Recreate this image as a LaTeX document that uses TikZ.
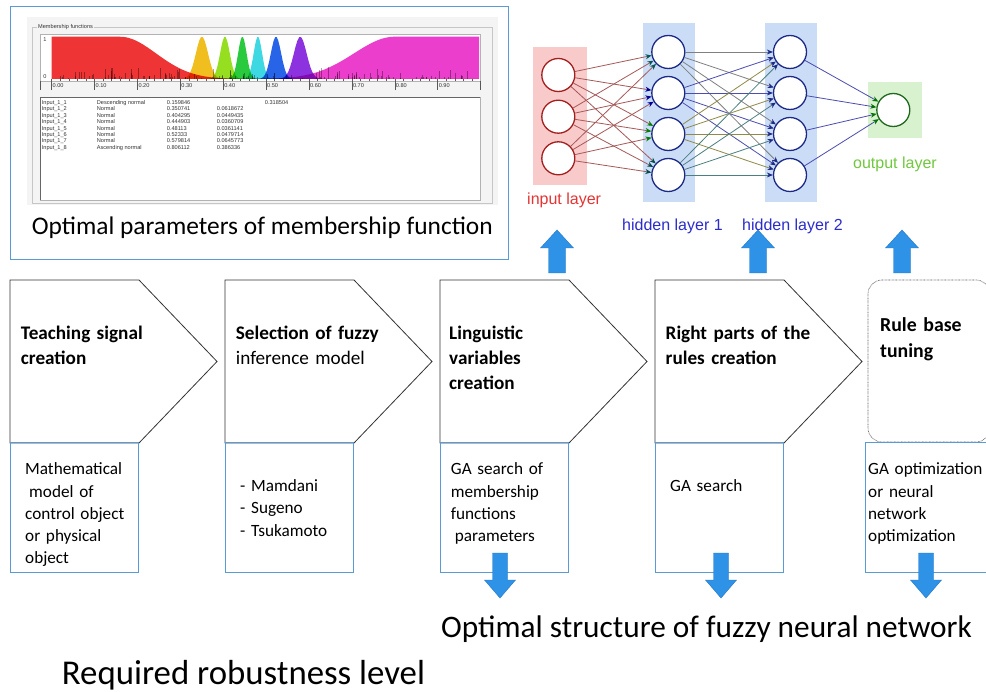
\documentclass[tikz,border=0pt]{standalone}
\usepackage{fontspec}
\setmainfont{Carlito}
\newfontfamily\guifont{Liberation Sans}
\usetikzlibrary{arrows.meta}

\definecolor{panelblue}{RGB}{91,155,213}
\definecolor{arrowblue}{RGB}{46,146,230}
\definecolor{arrowedge}{RGB}{36,118,200}
\definecolor{winbg}{RGB}{244,244,244}
\definecolor{inpink}{RGB}{248,202,202}
\definecolor{hidblue}{RGB}{202,220,246}
\definecolor{outgreen}{RGB}{216,241,206}
\definecolor{inred}{RGB}{165,30,30}
\definecolor{hidnavy}{RGB}{28,42,135}
\definecolor{outdark}{RGB}{30,105,30}
\definecolor{inlabel}{RGB}{228,52,52}
\definecolor{hidlabel}{RGB}{44,44,205}
\definecolor{outlabel}{RGB}{112,200,62}
\definecolor{mfred}{RGB}{238,52,52}
\definecolor{mfmag}{RGB}{236,62,204}
\definecolor{mfyellow}{RGB}{240,190,30}
\definecolor{mflime}{RGB}{150,222,32}
\definecolor{mfgreen}{RGB}{42,202,62}
\definecolor{mfcyan}{RGB}{62,216,226}
\definecolor{mfblue}{RGB}{40,100,232}
\definecolor{mfviolet}{RGB}{140,50,222}

\tikzset{
  chevron/.style={draw=black!80, line width=0.8pt, fill=white, line join=miter},
  notebox/.style={draw=panelblue, line width=1pt},
  steptitle/.style={anchor=base west, inner sep=0pt, text width=210pt, align=left,
    font=\fontsize{19.2}{25}\selectfont\bfseries},
  stepnote/.style={anchor=base west, inner sep=0pt, text width=140pt, align=left,
    font=\fontsize{17.2}{22.2}\selectfont},
  caption/.style={anchor=base west, inner sep=0pt},
  guitext/.style={inner sep=0pt, font=\guifont\fontsize{5.6}{6.45}\selectfont, text=black!80},
  neuron/.style={circle, line width=1.3pt, fill=white, minimum size=33pt, inner sep=0pt},
  layerlabel/.style={anchor=base west, inner sep=0pt, font=\guifont\fontsize{16}{18}\selectfont},
  synapse/.style={line width=0.8pt},
  blockup/.pic={\fill[arrowblue, draw=arrowedge, line width=0.4pt]
    (-8.5,0) -- (-8.5,-25) -- (-16.5,-25) -- (0,-43) -- (16.5,-25) -- (8.5,-25) -- (8.5,0) -- cycle;},
  blockdown/.pic={\fill[arrowblue, draw=arrowedge, line width=0.4pt]
    (-7.5,0) -- (-7.5,27) -- (-15.5,27) -- (0,45) -- (15.5,27) -- (7.5,27) -- (7.5,0) -- cycle;}
}

\begin{document}
\begin{tikzpicture}[x=1pt, y=-1pt,
  declare function={mfg(\u,\c,\w)=exp(max(-9,0-((\u-\c)/\w)^2));}]
\fill[white] (0,0) rectangle (986,692);
\useasboundingbox (0,0) rectangle (986,692);

% membership function screenshot
\draw[panelblue, line width=1pt] (10,7) rectangle (508,260);
\fill[winbg] (27,17) rectangle (498,205);
\draw[gray!45] (32,27) rectangle (492,203);
\node[guitext, fill=winbg, anchor=west, inner sep=1pt] (mftitle) at (37,27) {Membership functions};
\draw[gray!60, fill=white] (40.5,34.5) rectangle (480,81);
\begin{scope}[shift={(51.5,79)}, x=429pt, y=42.3pt]
  \fill[mfred] (0,0) -- plot[domain=0:0.997, samples=90] (\x,{(\x<0.16) ? 1 : mfg(\x,0.16,0.118)}) -- (0.997,0) -- cycle;
  \fill[mfmag, blend mode=multiply] (0.4,0) -- plot[domain=0.4:0.997, samples=70] (\x,{(\x>0.8) ? 1 : mfg(\x,0.8,0.134)}) -- (0.997,0) -- cycle;
  \foreach \c/\w/\col in {0.3507/0.020/mfyellow, 0.4043/0.016/mflime, 0.4449/0.014/mfgreen,
      0.4811/0.014/mfcyan, 0.5233/0.017/mfblue, 0.5798/0.021/mfviolet} {
    \pgfmathsetmacro\lo{\c-4*\w}
    \pgfmathsetmacro\hi{\c+4*\w}
    \fill[\col, blend mode=multiply] plot[domain=\lo:\hi, samples=40] (\x,{mfg(\x,\c,\w)}) -- cycle;
  }
  % noise of the data points
  \pgfmathsetseed{7}
  \foreach \k in {1,...,130} {
    \pgfmathsetmacro\sx{0.02+0.95*rnd}
    \pgfmathsetmacro\sh{0.03+0.3*rnd*rnd}
    \draw[black, opacity=0.35, line width=0.4pt] (\sx,0) -- (\sx,\sh);
  }
\end{scope}
\foreach \k in {0,...,49} \draw[gray!70!black, line width=0.3pt] ({51.5+8.58*\k},79) -- ++(0,2);
\foreach \k in {0,...,9} {
  \draw[gray!70!black, line width=0.4pt] ({51.5+42.9*\k},81) -- ++(0,9);
  \node[guitext, anchor=west] (tick\k) at ({52.5+42.9*\k},86) {0.\k0};
}
\draw[gray!70!black, line width=0.4pt] (480,81) -- ++(0,9) (40.5,81) -- ++(0,9);
\node[guitext] (yone) at (45,40) {1};
\node[guitext] (yzero) at (45,77) {0};
\draw[gray!60, fill=white] (40,97) rectangle (480,200);
\draw[gray!80!black, line width=0.5pt] (40.5,200) -- (40.5,97.5) -- (480,97.5);
\node[guitext, anchor=north west] (mftable) at (41.7,99.5) {%
  \begin{tabular}{@{}p{55pt}@{}p{70pt}@{}p{50pt}@{}p{48pt}@{}l@{}}
  Input\_1\_1 & Descending normal & 0.159846 & & 0.318504\\
  Input\_1\_2 & Normal & 0.350741 & 0.0618672 & \\
  Input\_1\_3 & Normal & 0.404295 & 0.0449435 & \\
  Input\_1\_4 & Normal & 0.444903 & 0.0360709 & \\
  Input\_1\_5 & Normal & 0.48113 & 0.0361141 & \\
  Input\_1\_6 & Normal & 0.52333 & 0.0479714 & \\
  Input\_1\_7 & Normal & 0.579814 & 0.0645773 & \\
  Input\_1\_8 & Ascending normal & 0.806112 & 0.386336 &
  \end{tabular}};
\node[caption, font=\fontsize{25.4}{30}\selectfont] (mfcap) at (31.7,235) {Optimal parameters of membership function};

% neural network
\fill[inpink] (533.3,46.7) rectangle (586.7,185);
\fill[hidblue] (643.3,23.3) rectangle (695,201.7);
\fill[hidblue] (765,23.3) rectangle (816.7,201.7);
\fill[outgreen] (868.3,81.7) rectangle (921.7,138.3);
\foreach \n/\y in {1/75,2/116.7,3/158.3}
  \node[neuron, draw=inred] (in\n) at (558.3,\y) {};
\foreach \n/\y in {1/52,2/93,3/134,4/175} {
  \node[neuron, draw=hidnavy] (ha\n) at (668.3,\y) {};
  \node[neuron, draw=hidnavy] (hb\n) at (790,\y) {};
}
\node[neuron, draw=outdark] (out) at (893.3,110) {};
\foreach \i in {1,2,3}
  \foreach \j/\tip in {1/teal!70!black, 2/blue!60!black, 3/green!50!black, 4/teal!60!black}
    \draw[synapse, red!30!gray, -{Stealth[length=6pt, width=5pt, color=\tip]}] (in\i) -- (ha\j);
\foreach \i/\ec in {1/gray, 2/blue!40!gray, 3/olive!50!gray, 4/teal!40!gray}
  \foreach \j in {1,...,4}
    \draw[synapse, \ec, -{Stealth[length=6pt, width=5pt, color=hidnavy]}] (ha\i) -- (hb\j);
\foreach \i in {1,...,4}
  \draw[synapse, blue!40!gray, -{Stealth[length=6pt, width=5pt, color=green!45!black]}] (hb\i) -- (out);
\node[layerlabel, text=inlabel] (inlab) at (527,205) {input layer};
\node[layerlabel, text=hidlabel] (halab) at (622,231) {hidden layer 1};
\node[layerlabel, text=hidlabel] (hblab) at (742,231) {hidden layer 2};
\node[layerlabel, text=outlabel] (outlab) at (853,169) {output layer};

% up arrows
\pic at (557,273) {blockup};
\pic at (758,273) {blockup};
\pic at (902,273) {blockup};

% process chevrons
\foreach \L in {10,225,440,655} {
  \draw[chevron] (\L,280) -- (\L+129,280) -- (\L+207,361.5) -- (\L+129,443) -- (\L,443) -- cycle;
  \draw[notebox] (\L,443) rectangle (\L+128,572);
}
\draw[gray!70!black, line width=0.6pt, dash pattern=on 0.7pt off 0.7pt, rounded corners=14pt] (868,280) rectangle (990,442);
\draw[notebox] (865,443) rectangle (995,572);

\node[steptitle] (st1) at (20.7,340) {Teaching signal\\creation};
\node[steptitle] (st2) at (235.7,340) {Selection of fuzzy\\\mdseries inference model};
\node[steptitle] (st3) at (449,340) {Linguistic\\variables\\creation};
\node[steptitle] (st4) at (665.5,340) {Right parts of the\\rules creation};
\node[steptitle, font=\fontsize{19.8}{26}\selectfont\bfseries] (st5) at (880,332) {Rule base\\tuning};

\node[stepnote] (sn1) at (25,475) {Mathematical\\\hspace{4pt}model of\\control object\\or physical\\object};
\node[stepnote] (sn2) at (240,491.7) {- Mamdani\\- Sugeno\\- Tsukamoto};
\node[stepnote] (sn3) at (450.7,475) {GA search of\\membership\\functions\\\hspace{4pt}parameters};
\node[stepnote] (sn4) at (670,492) {GA search};
\node[stepnote] (sn5) at (868,475) {GA optimization\\or neural\\network\\optimization};

% down arrows
\pic at (500,553) {blockdown};
\pic at (721,553) {blockdown};
\pic at (926,553) {blockdown};

\node[caption, font=\fontsize{31.3}{36}\selectfont] (fnncap) at (441,637) {Optimal structure of fuzzy neural network};
\node[caption, font=\fontsize{34.8}{40}\selectfont] (robcap) at (61.7,684) {Required robustness level};
\end{tikzpicture}
\end{document}
